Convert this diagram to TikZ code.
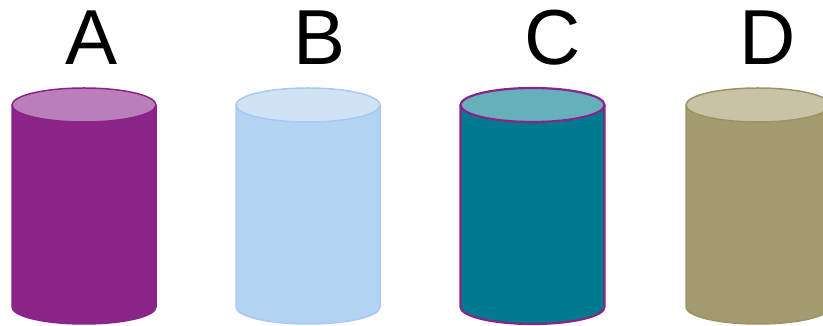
\documentclass[tikz,border=0pt]{standalone}
\usepackage{fontspec}
\setmainfont{Liberation Sans}
\definecolor{aBody}{HTML}{8B2488}
\definecolor{aTop}{HTML}{BA7EBA}
\definecolor{bBody}{HTML}{B3D3F2}
\definecolor{bTop}{HTML}{D0E3F5}
\definecolor{bLine}{HTML}{A9C8F8}
\definecolor{cBody}{HTML}{007A8F}
\definecolor{cTop}{HTML}{66B0BC}
\definecolor{dBody}{HTML}{A39A6D}
\definecolor{dTop}{HTML}{C9C3A6}
\definecolor{dLine}{HTML}{9C9266}
\tikzset{
  letter/.style={inner sep=0pt, font=\fontsize{78}{90}\selectfont, text=black},
}
\newcommand{\mycyl}[6]{% name, cx, body, top, line, width
  \coordinate (#1) at (#2,120);
  \fill[#3] (#2-72,221) -- (#2-72,19) arc[start angle=180, end angle=360, x radius=72, y radius=17] -- (#2+72,221) -- cycle;
  \draw[#5, line width=#6] (#2-72,221) -- (#2-72,19) arc[start angle=180, end angle=360, x radius=72, y radius=17] -- (#2+72,221);
  \draw[#5, line width=#6, fill=#4] (#2,221) ellipse[x radius=72, y radius=17];
}
\begin{document}
\begin{tikzpicture}[x=1pt,y=1pt]
\useasboundingbox (0,0) rectangle (823,326);
\clip (0,0) rectangle (823,326);
\mycyl{cylA}{84}{aBody}{aTop}{aBody}{1.5pt}
\mycyl{cylB}{308}{bBody}{bTop}{bLine}{1.5pt}
\mycyl{cylC}{532.5}{cBody}{cTop}{aBody}{2.2pt}
\mycyl{cylD}{758}{dBody}{dTop}{dLine}{1.5pt}
\node[letter] (labA) at (92,288) {A};
\node[letter] (labB) at (320,288) {B};
\node[letter] (labC) at (553,288) {C};
\node[letter] (labD) at (768,288) {D};
\end{tikzpicture}
\end{document}
